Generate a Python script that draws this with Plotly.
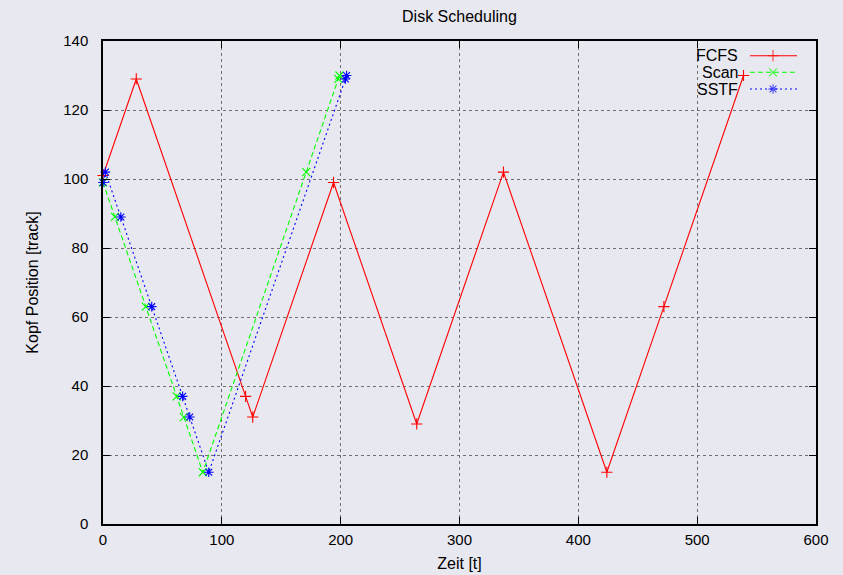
import plotly.graph_objects as go

# ---- data ----
fcfs_t = [0, 28, 120, 126, 194, 264, 337, 424, 472, 539]
fcfs_y = [101, 129, 37, 31, 99, 29, 102, 15, 63, 130]

scan_t = [0, 10, 36, 62, 68, 84, 171, 198, 199]
scan_y = [99, 89, 63, 37, 31, 15, 102, 129, 130]

sstf_t = [0, 2, 15, 41, 67, 73, 89, 204, 205]
sstf_y = [99, 102, 89, 63, 37, 31, 15, 129, 130]

series_names = ["FCFS", "Scan", "SSTF"]
x_ticks = [0, 100, 200, 300, 400, 500, 600]
y_ticks = [0, 20, 40, 60, 80, 100, 120, 140]

FONT = "Liberation Sans, Arial, Helvetica, sans-serif"
BG = "#e8e8f0"
colors = ["#ff0000", "#00ff00", "#0000ff"]
dashes = ["solid", "5px,3px", "2px,3px"]
symbols = ["cross-thin-open", "x-thin-open", "asterisk-open"]
MSIZE = 8

fig = go.Figure()
data = [(fcfs_t, fcfs_y), (scan_t, scan_y), (sstf_t, sstf_y)]
for (xs, ys), name, c, d, s in zip(data, series_names, colors, dashes, symbols):
    fig.add_trace(go.Scatter(
        x=xs, y=ys, name=name, mode="lines+markers",
        line=dict(color=c, width=1.1, dash=d),
        marker=dict(symbol=s, size=MSIZE, line=dict(color=c, width=1.1), color=c),
        showlegend=False, cliponaxis=False,
    ))

# ---- gnuplot-style key: text right-aligned, sample to the right ----
row_y = [0.9696, 0.9352, 0.9006]
key_x0, key_x1, key_xm, key_text_x = 0.9074, 0.9734, 0.9397, 0.8934
for name, c, d, s, ry in zip(series_names, colors, dashes, symbols, row_y):
    fig.add_trace(go.Scatter(
        x=[key_x0, key_xm, key_x1], y=[ry, ry, ry], xaxis="x2", yaxis="y2",
        mode="lines+markers", line=dict(color=c, width=1.1, dash=d),
        marker=dict(symbol=s, size=[0, MSIZE, 0], line=dict(color=c, width=1.1), color=c),
        showlegend=False, hoverinfo="skip",
    ))
    fig.add_annotation(x=key_text_x, y=ry, xref="paper", yref="paper",
                       text=name, showarrow=False, xanchor="right", yanchor="middle",
                       font=dict(family=FONT, size=16, color="#000"))

axis_common = dict(
    showline=True, linecolor="#000", linewidth=1.5, mirror="ticks",
    ticks="inside", ticklen=7, tickwidth=1.2, tickcolor="#000",
    showgrid=True, gridcolor="#707070", griddash="dot", gridwidth=1,
    zeroline=False, automargin=False,
    tickfont=dict(family=FONT, size=15, color="#000"),
)

fig.update_layout(
    width=843, height=575,
    paper_bgcolor=BG, plot_bgcolor=BG,
    margin=dict(l=103, r=27, t=41, b=51),
    title=dict(text="Disk Scheduling", x=0.545, xanchor="center",
               y=1 - 16 / 575, yanchor="middle", yref="container",
               font=dict(family=FONT, size=16, color="#000")),
    xaxis=dict(range=[0, 600], tickvals=x_ticks, ticklabelstandoff=1,
               title=dict(text="Zeit [t]", standoff=11,
                          font=dict(family=FONT, size=16, color="#000")),
               **axis_common),
    yaxis=dict(range=[0, 140], tickvals=y_ticks, ticklabelstandoff=10,
               title=dict(text="Kopf Position [track]", standoff=21,
                          font=dict(family=FONT, size=16, color="#000")),
               **axis_common),
    xaxis2=dict(range=[0, 1], overlaying="x", visible=False),
    yaxis2=dict(range=[0, 1], overlaying="y", visible=False),
    showlegend=False,
)

fig.write_html(
    "out.html",
    config={"displayModeBar": False},
    post_script="document.body.style.margin='0';"
                "document.body.style.background='" + BG + "';"
                "document.documentElement.style.background='" + BG + "';",
)
